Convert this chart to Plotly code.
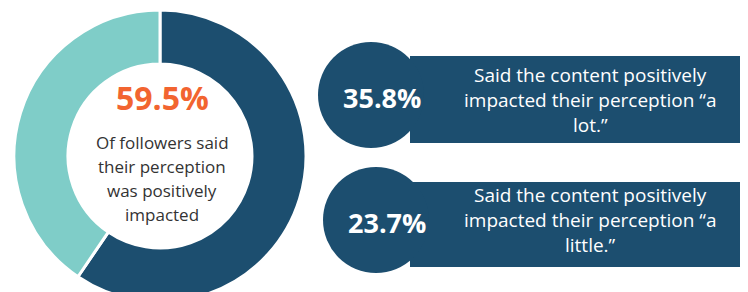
import plotly.graph_objects as go

# ---- data ----
donut_labels = ["Positively impacted", "Other"]
donut_values = [59.5, 40.5]
donut_colors = ["#1c4e6f", "#7fcdc8"]

headline_value = "59.5%"
headline_lines = ["Of followers said", "their perception", "was positively", "impacted"]

pill_values = ["35.8%", "23.7%"]
pill_lines = [
    ["Said the content positively", "impacted their perception \u201ca", "lot.\u201d"],
    ["Said the content positively", "impacted their perception \u201ca", "little.\u201d"],
]

W, H = 748, 302
OFF = 8  # page body margin offset
FONT = "Open Sans"
DARK = "#1c4e6f"


def fx(x):
    return (x - OFF) / W


def fy(y):
    return 1 - (y - OFF) / H


fig = go.Figure()
fig.add_trace(go.Pie(
    labels=donut_labels, values=donut_values, hole=0.63, sort=False,
    direction="clockwise", rotation=0,
    marker=dict(colors=donut_colors, line=dict(color="white", width=3)),
    textinfo="none", hoverinfo="none", showlegend=False,
    domain=dict(x=[fx(14), fx(306)], y=[fy(302), fy(10)]),
))

ann = []
ann.append(dict(x=fx(162), y=fy(97), text="<b>" + headline_value + "</b>",
                font=dict(family=FONT, size=32, color="#f26430")))
for i, line in enumerate(headline_lines):
    ann.append(dict(x=fx(162), y=fy(142 + i * 24), text=line,
                    font=dict(family=FONT, size=17, color="#333333")))

shapes = []
pill_geo = [
    dict(cx=371, cy=95, r=53, x0=410, x1=741, y0=56, y1=143, ty=[75, 100, 125]),
    dict(cx=376, cy=220, r=53, x0=410, x1=742, y0=182, y1=267, ty=[195, 220, 245]),
]
for k, g in enumerate(pill_geo):
    shapes.append(dict(type="rect", xref="paper", yref="paper",
                       x0=fx(g["x0"]), x1=fx(g["x1"]), y0=fy(g["y1"]), y1=fy(g["y0"]),
                       fillcolor=DARK, line=dict(width=0), layer="below"))
    shapes.append(dict(type="circle", xref="paper", yref="paper",
                       x0=fx(g["cx"] - g["r"]), x1=fx(g["cx"] + g["r"]),
                       y0=fy(g["cy"] + g["r"]), y1=fy(g["cy"] - g["r"]),
                       fillcolor=DARK, line=dict(width=0), layer="below"))
    ann.append(dict(x=fx(g["cx"] + 11), y=fy(g["cy"] + 2), text="<b>" + pill_values[k] + "</b>",
                    font=dict(family=FONT, size=27, color="white")))
    for i, line in enumerate(pill_lines[k]):
        ann.append(dict(x=fx(590), y=fy(g["ty"][i]), text=line,
                        font=dict(family=FONT, size=19, color="white")))

for a in ann:
    a.update(xref="paper", yref="paper", showarrow=False, xanchor="center", yanchor="middle")

fig.update_layout(
    width=W, height=H, margin=dict(l=0, r=0, t=0, b=0),
    paper_bgcolor="white", plot_bgcolor="white",
    annotations=ann, shapes=shapes,
)

fig.write_html("out.html")
